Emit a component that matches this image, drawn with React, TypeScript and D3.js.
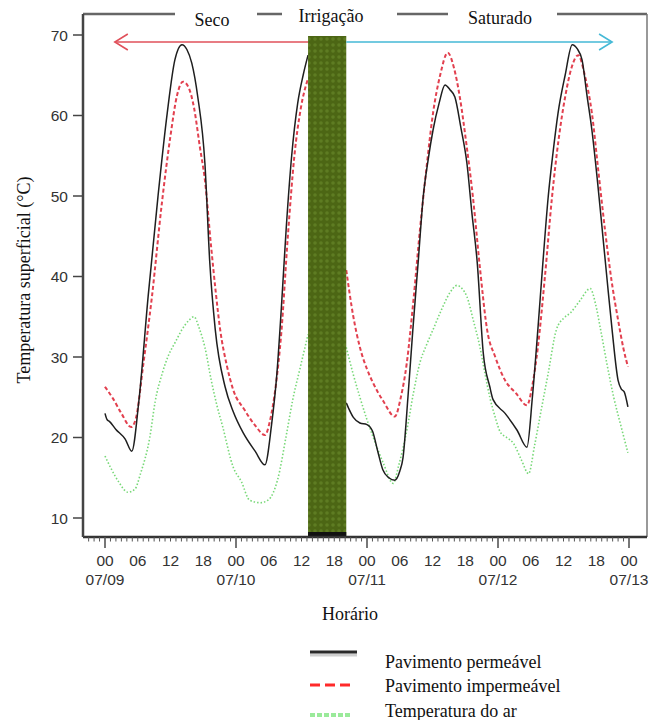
import React from 'react';
import * as d3 from 'd3';

// ---- data (hours since 07/09 00:00, temperature °C) ----
const dayLabels = ['07/09', '07/10', '07/11', '07/12', '07/13'];
const hourLabels = ['00', '06', '12', '18'];
const yTicks = [10, 20, 30, 40, 50, 60, 70];
const phaseLabels = ['Seco', 'Irrigação', 'Saturado'];
const irrigationWindow = [37.2, 44.2];
const seriesNames = ['Pavimento permeável', 'Pavimento impermeável', 'Temperatura do ar'];

const permeavel1: [number, number][] = [
  [0, 23.0], [0.4, 22.2], [0.8, 22.0], [2, 21.0], [3.7, 19.8], [4.9, 18.3], [6.2, 24.5], [7.9, 37.5],
  [9.7, 49.9], [11.4, 60.3], [12.8, 66.9], [14.1, 68.8], [15.0, 68.2], [15.9, 66.5], [17.0, 62.3],
  [18.3, 54.1], [19.2, 41.7], [20.2, 33.4], [22.0, 26.3], [23.5, 23.2], [25.3, 20.6], [27.5, 18.3],
  [29.3, 16.6], [30.5, 21.5], [31.5, 28], [32.3, 36], [33.2, 46], [34.2, 55], [35.3, 61.5],
  [36.3, 65], [37.2, 67.5],
];
const permeavel2: [number, number][] = [
  [44.2, 24.3], [45.5, 22.5], [46.7, 21.8], [48, 21.6], [49, 20.8], [50, 18.2], [50.9, 16.0],
  [52, 15.0], [53.1, 14.7], [54, 15.8], [54.6, 17.5], [55.5, 25], [56.4, 33.4], [57.4, 42],
  [58.3, 49.9], [59.2, 54.5], [60.1, 58.2], [61.2, 61.5], [62.3, 63.8], [63.2, 63.2], [64.1, 62.3],
  [65.2, 58.5], [66.3, 54.1], [67.2, 48], [68.2, 41.7], [69.3, 30.5], [70.5, 26.3], [71.1, 24.7],
  [73.3, 23.0], [75.5, 20.9], [77.3, 18.8], [78.3, 25], [79.3, 33.4], [80.2, 41.5], [81.2, 49.9],
  [82.1, 55.5], [83, 60.3], [84.3, 65], [85.6, 68.8], [86.5, 68.3], [87.4, 66.9], [88.3, 62.5],
  [89.2, 58.2], [90.2, 52], [91.1, 45.8], [92, 39.5], [92.9, 33.4], [94, 27.1], [94.6, 26],
  [95.1, 25.7], [95.8, 23.8],
];
const impermeavel1: [number, number][] = [
  [0, 26.3], [1.5, 24.8], [3, 23], [4.8, 21.3], [5.7, 22.5], [7, 29], [8.6, 37.5], [10.4, 49],
  [12, 57.5], [13.2, 62.5], [14.3, 64.2], [15.3, 63.5], [16.3, 61], [17.4, 56], [18.3, 52],
  [19.4, 44], [20.3, 38], [21.1, 33.4], [22.3, 29], [23.5, 25.9], [25.5, 23.5], [27.5, 21.5],
  [29.3, 20.3], [30.2, 22], [31.3, 26.5], [32.3, 33], [33.5, 45], [34.7, 55], [35.9, 61], [37.2, 64.6],
];
const impermeavel2: [number, number][] = [
  [44.2, 40.8], [45.5, 35], [46.7, 31.2], [48, 28.5], [49.1, 26.8], [51, 24.5], [53.1, 22.6],
  [54.2, 25], [55.3, 29.3], [56.5, 37], [57.7, 45.8], [58.9, 53.5], [60.1, 60.3], [61.4, 65],
  [62.8, 67.8], [63.9, 66], [65, 62.3], [66.2, 56.5], [67.4, 49.9], [68.7, 41], [70, 33.4],
  [71.5, 30], [73.3, 27.1], [75.3, 25.5], [77.3, 24.0], [78.3, 26.5], [79.3, 31.2], [80.6, 40],
  [81.9, 49.9], [83.1, 57], [84.3, 62.3], [85.5, 66], [86.7, 67.5], [87.9, 65], [89.2, 60.3],
  [90.4, 53], [91.6, 45.8], [92.8, 39.5], [94, 34.6], [95, 31], [95.8, 28.8],
];
const ar1: [number, number][] = [
  [0, 17.7], [1, 16.3], [2.5, 14.5], [4.2, 13.2], [5.5, 13.6], [6.5, 15.5], [8.2, 20], [9.2, 24.5],
  [10.5, 28], [11.5, 30], [13, 32], [14.1, 33.4], [15.3, 34.5], [16.3, 35.0], [17.3, 33.5],
  [18.3, 31.2], [19.5, 27], [20.5, 24], [21.5, 21.5], [23.5, 16.3], [25, 14.5], [26.5, 12.2],
  [28.5, 11.9], [30, 12.3], [31.6, 14.7], [33.3, 20.6], [34.4, 24.7], [35.7, 28.5], [37.2, 32.8],
];
const ar2: [number, number][] = [
  [44.2, 31.2], [45.5, 27.8], [46.7, 25.0], [48, 22.2], [49.1, 20.1], [51, 16.8], [52.8, 14.3],
  [53.8, 16.5], [55.3, 20.9], [56.5, 25.5], [57.7, 29.3], [58.9, 31.5], [60.1, 33.4], [61.6, 35.8],
  [63.2, 38.0], [64.5, 38.9], [65.4, 38.5], [66.3, 37.5], [67.5, 34.5], [68.7, 31.2], [69.6, 28],
  [70.5, 25.0], [71.5, 22.5], [72.4, 20.7], [73.6, 20], [74.8, 19.3], [76.3, 17.2], [77.6, 15.5],
  [78.7, 19], [79.8, 23.0], [81.2, 28], [82.7, 33.4], [84, 34.8], [85.3, 35.5], [87, 37],
  [88.9, 38.5], [89.9, 36.5], [90.8, 33.4], [92, 29], [93.2, 25.0], [94.5, 21.5], [95.8, 18.1],
];

// ---- layout ----
const W = 652;
const H = 720;
const frame = { left: 83, top: 14, right: 647, bottom: 537 };
const SERIF = '"Liberation Serif", "Times New Roman", serif';
const SANS = '"Liberation Sans", Arial, sans-serif';

const x = d3.scaleLinear().domain([0, 96]).range([105, 629]);
const y = d3.scaleLinear().domain([10, 70]).range([518, 35]);

const line = d3
  .line<[number, number]>()
  .x((d) => x(d[0]))
  .y((d) => y(d[1]))
  .curve(d3.curveMonotoneX);

const colors = { perm: '#1e1e1e', imp: '#e2404f', ar: '#78d878' };

export default function App() {
  const minorTicks = d3.range(-3, 97, 1);
  const labelTicks = d3.range(0, 97, 6);
  const bandX0 = x(irrigationWindow[0]);
  const bandX1 = x(irrigationWindow[1]);

  const phaseX = [212, 331, 500];
  const phaseY = [26, 22, 24];
  const phaseGap = [
    [175, 257],
    [282, 397],
    [448, 557],
  ];

  return (
    <svg
      width={W}
      height={H}
      viewBox={`0 0 ${W} ${H}`}
      style={{ position: 'absolute', left: 0, top: 0, background: '#fff' }}
    >
      <defs>
        <pattern id="dots" width="6" height="6" patternUnits="userSpaceOnUse">
          <rect width="6" height="6" fill="#4c6614" />
          <circle cx="3" cy="3" r="1.8" fill="#5e7c22" />
        </pattern>
      </defs>
      <rect width={W} height={H} fill="#fff" />

      {/* series */}
      {[ar1, ar2].map((s, i) => (
        <path key={'a' + i} d={line(s) || ''} fill="none" stroke={colors.ar} strokeWidth={1.6} strokeDasharray="1.5,2" />
      ))}
      {[impermeavel1, impermeavel2].map((s, i) => (
        <path key={'r' + i} d={line(s) || ''} fill="none" stroke={colors.imp} strokeWidth={2} strokeDasharray="4,2.5" />
      ))}
      {[permeavel1, permeavel2].map((s, i) => (
        <path key={'b' + i} d={line(s) || ''} fill="none" stroke={colors.perm} strokeWidth={1.5} />
      ))}

      {/* irrigation band */}
      <rect x={bandX0} y={y(70) + 1} width={bandX1 - bandX0} height={frame.bottom - y(70) - 1} fill="url(#dots)" />
      <rect x={bandX0} y={frame.bottom - 5} width={bandX1 - bandX0} height={5} fill="#111" />

      {/* frame */}
      <line x1={frame.left} x2={frame.right} y1={frame.top} y2={frame.top} stroke="#666" strokeWidth={2.5} />
      <line x1={frame.right} x2={frame.right} y1={frame.top} y2={frame.bottom} stroke="#777" strokeWidth={1.5} />
      <line x1={frame.left} x2={frame.right} y1={frame.bottom} y2={frame.bottom} stroke="#333" strokeWidth={2.5} />
      <line x1={frame.left} x2={frame.left} y1={frame.top} y2={frame.bottom} stroke="#444" strokeWidth={2.5} />

      {/* phase labels on top frame */}
      {phaseLabels.map((p, i) => (
        <g key={p}>
          <rect x={phaseGap[i][0]} y={frame.top - 3} width={phaseGap[i][1] - phaseGap[i][0]} height={6} fill="#fff" />
          <text x={phaseX[i]} y={phaseY[i]} textAnchor="middle" fontFamily={SERIF} fontSize={18} fill="#111">
            {p}
          </text>
        </g>
      ))}

      {/* arrows */}
      <g stroke="#e0505a" strokeWidth={1.6} fill="none">
        <line x1={x(1.8)} x2={bandX0} y1={42} y2={42} />
        <polyline points={`${x(1.8) + 13},${34} ${x(1.8)},${42} ${x(1.8) + 13},${50}`} />
      </g>
      <g stroke="#45b9d6" strokeWidth={1.6} fill="none">
        <line x1={bandX1} x2={x(92.9)} y1={42} y2={42} />
        <polyline points={`${x(92.9) - 13},${34} ${x(92.9)},${42} ${x(92.9) - 13},${50}`} />
      </g>

      {/* y axis */}
      {yTicks.map((t) => (
        <g key={t}>
          <line x1={frame.left - 10} x2={frame.left} y1={y(t)} y2={y(t)} stroke="#444" strokeWidth={1.5} />
          <text x={frame.left - 15} y={y(t)} dy="0.36em" textAnchor="end" fontFamily={SANS} fontSize={15.5} fill="#333">
            {t}
          </text>
        </g>
      ))}
      <text
        transform="translate(30,280) rotate(-90)"
        textAnchor="middle"
        fontFamily={SERIF}
        fontSize={18}
        fill="#111"
      >
        Temperatura superficial (°C)
      </text>

      {/* x axis */}
      {minorTicks.map((h) => (
        <line
          key={h}
          x1={x(h)}
          x2={x(h)}
          y1={frame.bottom}
          y2={frame.bottom + (h % 24 === 0 ? 11 : 4.5)}
          stroke="#555"
          strokeWidth={h % 24 === 0 ? 1.6 : 1}
        />
      ))}
      {labelTicks.map((h) => (
        <text key={h} x={x(h)} y={566} textAnchor="middle" fontFamily={SANS} fontSize={15.5} fill="#333">
          {hourLabels[(h % 24) / 6]}
        </text>
      ))}
      {dayLabels.map((d, i) => (
        <text key={d} x={x(i * 24)} y={585} textAnchor="middle" fontFamily={SANS} fontSize={15.5} fill="#333">
          {d}
        </text>
      ))}
      <text x={350} y={620} textAnchor="middle" fontFamily={SERIF} fontSize={18} fill="#111">
        Horário
      </text>

      {/* legend */}
      <line x1={310} x2={357} y1={655} y2={655} stroke="#cfcfcf" strokeWidth={3} />
      <line x1={310} x2={357} y1={652} y2={652} stroke="#2a2a2a" strokeWidth={3} />
      <line x1={310} x2={352} y1={685} y2={685} stroke="#ff2a2a" strokeWidth={3} strokeDasharray="10,5" />
      <line x1={310} x2={352} y1={715} y2={715} stroke="#9aea9a" strokeWidth={4} strokeDasharray="5,2" />
      {seriesNames.map((n, i) => (
        <text key={n} x={385} y={[668, 692, 717][i]} fontFamily={SERIF} fontSize={18} fill="#111">
          {n}
        </text>
      ))}
    </svg>
  );
}
